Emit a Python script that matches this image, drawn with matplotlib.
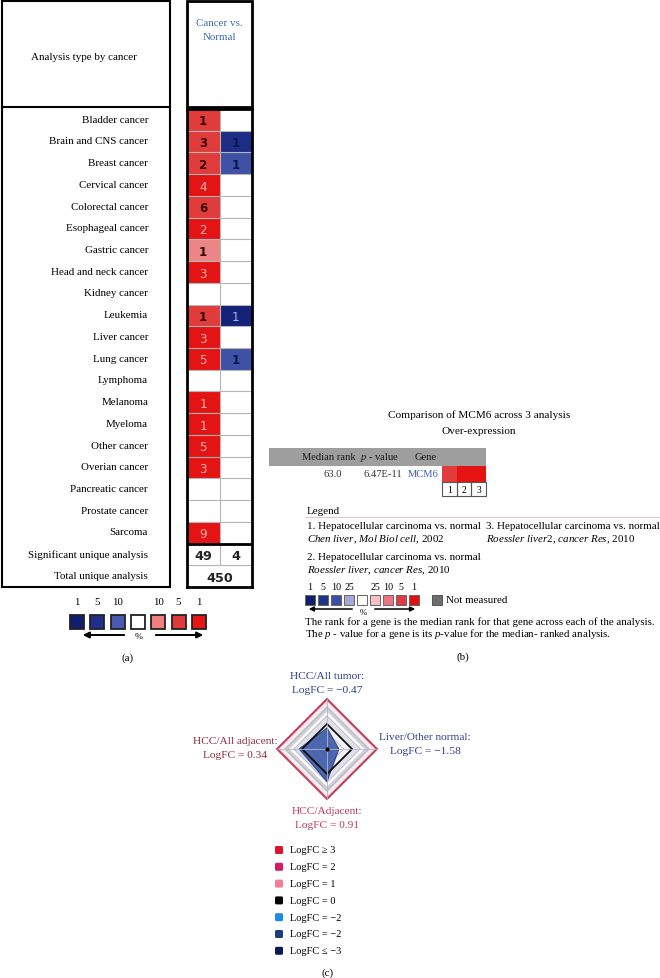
import matplotlib
matplotlib.use("Agg")
import matplotlib.pyplot as plt
from matplotlib.patches import Rectangle, Polygon, FancyBboxPatch
import numpy as np

plt.rcParams['font.family'] = ['Liberation Serif', 'DejaVu Serif']
plt.rcParams['mathtext.fontset'] = 'custom'
plt.rcParams['mathtext.rm'] = 'Liberation Serif'
plt.rcParams['mathtext.it'] = 'Liberation Serif:italic'
plt.rcParams['mathtext.bf'] = 'Liberation Serif:bold'

# ---------------- data ----------------
cancers = ["Bladder cancer", "Brain and CNS cancer", "Breast cancer", "Cervical cancer",
           "Colorectal cancer", "Esophageal cancer", "Gastric cancer", "Head and neck cancer",
           "Kidney cancer", "Leukemia", "Liver cancer", "Lung cancer", "Lymphoma",
           "Melanoma", "Myeloma", "Other cancer", "Overian cancer", "Pancreatic cancer",
           "Prostate cancer", "Sarcoma"]
up_counts = [1, 3, 2, 4, 6, 2, 1, 3, 0, 1, 3, 5, 0, 1, 1, 5, 3, 0, 0, 9]
up_rank = [5, 5, 5, 1, 5, 1, 10, 1, None, 5, 1, 1, None, 1, 1, 1, 1, None, None, 1]
down_counts = [0, 1, 1, 0, 0, 0, 0, 0, 0, 1, 0, 1, 0, 0, 0, 0, 0, 0, 0, 0]
down_rank = [None, 5, 10, None, None, None, None, None, None, 1, None, 10,
             None, None, None, None, None, None, None, None]
summary_labels = ["Significant unique analysis", "Total unique analysis"]
sig_unique = [49, 4]
total_unique = 450
legend_a_labels = ["1", "5", "10", "", "10", "5", "1"]

# panel b
median_rank = "63.0"
p_value = "6.47E-11"
gene = "MCM6"
analysis_rank = [5, 1, 1]
legend_b_labels = ["1", "5", "10", "25", "", "25", "10", "5", "1"]
datasets = [("1. Hepatocellular carcinoma vs. normal", r"$\mathit{Chen\ liver}$, $\mathit{Mol\ Biol\ cell}$, 2002"),
            ("2. Hepatocellular carcinoma vs. normal", r"$\mathit{Roessler\ liver}$, $\mathit{cancer\ Res}$, 2010"),
            ("3. Hepatocellular carcinoma vs. normal", r"$\mathit{Roessler\ liver2}$, $\mathit{cancer\ Res}$, 2010")]

# panel c
radar_names = ["HCC/All tumor:", "Liver/Other normal:", "HCC/Adjacent:", "HCC/All adjacent:"]
radar_logfc = [-0.47, -1.58, 0.91, 0.34]
legend_c_labels = ["LogFC ≥ 3", "LogFC = 2", "LogFC = 1", "LogFC = 0", "LogFC = −2", "LogFC = −2", "LogFC ≤ −3"]
legend_c_colors = ["#e0112b", "#d81b60", "#f27e94", "#000000", "#1e88e5", "#1c3f7a", "#0b1a55"]

# ---------------- styles ----------------
up_colors = {1: "#e41414", 5: "#e03c3c", 10: "#ec8686"}
down_colors = {1: "#14227a", 5: "#1e2d86", 10: "#3f51a5"}
legend_a_colors = ["#0f1f6e", "#1f2f8a", "#4a5aae", "#ffffff", "#f08080", "#e03a3a", "#e81515"]
legend_b_colors = ["#0f1f6e", "#1f3488", "#3c4fa6", "#a3a8d6", "#ffffff", "#f6c0c8", "#ef7482", "#e23a44", "#e01010"]
FS = 7.9
SANS = ['DejaVu Sans']

W, H = 660, 979
fig = plt.figure(figsize=(6.6, 9.79), dpi=100)


def px_axes(x0, y0, x1, y1):
    return fig.add_axes([x0 / W, 1 - y1 / H, (x1 - x0) / W, (y1 - y0) / H])


bg = px_axes(0, 0, W, H)
bg.set_xlim(0, W)
bg.set_ylim(H, 0)
bg.axis('off')

# ================= panel (a) =================
bg.add_patch(Rectangle((2, 2), 168, 586, fill=False, lw=1.5, ec='k'))
bg.plot([2, 170], [108, 108], color='k', lw=1.5)
bg.text(84, 58, "Analysis type by cancer", ha='center', va='center', fontsize=FS)
bg.add_patch(Rectangle((187, 2), 65, 106, fill=False, lw=2, ec='k'))
bg.text(219.5, 24, "Cancer vs.", ha='center', va='center', fontsize=FS, color='#3d6bb0')
bg.text(219.5, 37, "Normal", ha='center', va='center', fontsize=FS, color='#3d6bb0')

nrow = len(cancers) + 2
hm = px_axes(187, 110, 252, 588)
hm.set_xlim(0, 2)
hm.set_ylim(nrow, 0)
for s in hm.spines.values():
    s.set_linewidth(2)
hm.set_xticks([])
hm.set_yticks(np.arange(nrow) + 0.42)
hm.set_yticklabels(cancers + summary_labels, fontsize=FS)
hm.tick_params(axis='y', length=0, pad=28)


def cell(col, row, count, rank, palette):
    if rank is None:
        return
    hm.add_patch(Rectangle((col, row), 1, 1, color=palette[rank], lw=0))
    if rank == 1:
        tc = '#f7b4b4' if palette is up_colors else '#a8b6ea'
        w = 'normal'
    else:
        tc = '#3a0606' if palette is up_colors else '#0b1550'
        w = 'bold'
    hm.text(col + 0.5, row + 0.55, str(count), ha='center', va='center', fontsize=8.6,
            family=SANS, color=tc, weight=w)


for i in range(len(cancers)):
    cell(0, i, up_counts[i], up_rank[i], up_colors)
    cell(1, i, down_counts[i], down_rank[i], down_colors)
for r in range(1, nrow):
    hm.axhline(r, color='#b5b5b5', lw=0.8)
hm.plot([1, 1], [0, nrow - 1], color='#b5b5b5', lw=0.8)
hm.axhline(len(cancers), color='k', lw=2)
for j, v in enumerate(sig_unique):
    hm.text(j + 0.5, len(cancers) + 0.55, str(v), ha='center', va='center', fontsize=9.2,
            family=SANS, weight='bold', color='#222222')
hm.text(1, len(cancers) + 1.55, str(total_unique), ha='center', va='center', fontsize=9.2,
        family=SANS, weight='bold', color='#222222')

# legend (a)
for i, (lab, col) in enumerate(zip(legend_a_labels, legend_a_colors)):
    x = 70 + 20.3 * i
    bg.add_patch(Rectangle((x, 616), 14, 14, fc=col, ec='#222222', lw=1.3))
    if lab:
        bg.text(x + 7, 603, lab, ha='center', va='center', fontsize=7.8)
bg.annotate("", xy=(80, 636), xytext=(127, 636),
            arrowprops=dict(arrowstyle='-|>', lw=1.4, color='k', mutation_scale=9))
bg.annotate("", xy=(206, 636), xytext=(153, 636),
            arrowprops=dict(arrowstyle='-|>', lw=1.4, color='k', mutation_scale=9))
bg.text(139, 637, "%", ha='center', va='center', fontsize=6.8)
bg.text(128, 658, "(a)", ha='center', va='center', fontsize=FS)

# ================= panel (b) =================
bg.text(479, 415, "Comparison of MCM6 across 3 analysis", ha='center', va='center', fontsize=8.1)
bg.text(479, 432, "Over-expression", ha='center', va='center', fontsize=8.1)
bg.add_patch(Rectangle((269, 449), 217, 18, fc='#9e9e9e', lw=0))
bg.text(302, 458, "Median rank", ha='left', va='center', fontsize=7.6, color='#1a1a1a')
bg.text(360, 458, r"$\mathit{p}$ - value", ha='left', va='center', fontsize=7.6, color='#1a1a1a')
bg.text(415, 458, "Gene", ha='left', va='center', fontsize=7.6, color='#1a1a1a')
bg.text(333, 475, median_rank, ha='center', va='center', fontsize=7.6, color='#333333')
bg.text(363, 475, p_value, ha='left', va='center', fontsize=7.6, color='#333333')
bg.text(408, 475, gene, ha='left', va='center', fontsize=7.6, color='#3d5fae')
cw = 44 / len(analysis_rank)
for i, rk in enumerate(analysis_rank):
    bg.add_patch(Rectangle((442 + i * cw, 467), cw, 16, fc=up_colors[rk], lw=0))
    bg.add_patch(Rectangle((442 + i * cw, 483), cw, 14, fill=False, ec='#555555', lw=0.8))
    bg.text(442 + (i + 0.5) * cw, 490.5, str(i + 1), ha='center', va='center', fontsize=7)

bg.text(307, 511, "Legend", ha='left', va='center', fontsize=FS)
bg.plot([305, 660], [518, 518], color='#e6c6cb', lw=0.8)
pos_b = [(307, 527), (307, 558), (486, 527)]
for (t1, t2), (x, y) in zip(datasets, pos_b):
    bg.text(x, y, t1, ha='left', va='center', fontsize=FS)
    bg.text(x, y + 13, t2, ha='left', va='center', fontsize=FS)

for i, (lab, col) in enumerate(zip(legend_b_labels, legend_b_colors)):
    x = 305 + 13 * i
    bg.add_patch(Rectangle((x, 596), 10, 10, fc=col, ec='#666666', lw=0.7))
    if lab:
        bg.text(x + 5, 588, lab, ha='center', va='center', fontsize=7.2)
bg.add_patch(Rectangle((432, 596), 10, 10, fc='#6e6e6e', ec='#555555', lw=0.7))
bg.text(446, 601, "Not measured", ha='left', va='center', fontsize=FS)
bg.annotate("", xy=(306, 610), xytext=(355, 610),
            arrowprops=dict(arrowstyle='-|>', lw=1.1, color='k', mutation_scale=7))
bg.annotate("", xy=(418, 610), xytext=(372, 610),
            arrowprops=dict(arrowstyle='-|>', lw=1.1, color='k', mutation_scale=7))
bg.text(363, 613, "%", ha='center', va='center', fontsize=6.2)
bg.text(305, 622, "The rank for a gene is the median rank for that gene across each of the analysis.",
        ha='left', va='center', fontsize=7.8)
bg.text(305, 634, r"The $\mathit{p}$ - value for a gene is its $\mathit{p}$-value for the median- ranked analysis.",
        ha='left', va='center', fontsize=7.8)
bg.text(463, 657, "(b)", ha='center', va='center', fontsize=FS)

# ================= panel (c) =================
vmin, vmax = -3.0, 3.0
ang = np.deg2rad([90, 0, -90, 180])
rad = px_axes(272, 695, 382, 805)
rad.set_xlim(-1.1, 1.1)
rad.set_ylim(-1.1, 1.1)
rad.axis('off')


def ring(vals):
    r = (np.asarray(vals, dtype=float) - vmin) / (vmax - vmin)
    return np.c_[r * np.cos(ang), r * np.sin(ang)]


for lev, fc in [(2.8, '#f7eef1'), (2.2, '#cfd0d6'), (1.5, 'white'), (1.0, '#dedfe7'), (0.0, '#f2f3f8')]:
    rad.add_patch(Polygon(ring([lev] * 4), closed=True, fc=fc, ec='none'))
for lev in [-2, -1, 1, 2]:
    rad.add_patch(Polygon(ring([lev] * 4), closed=True, fill=False, ec='#b3b6c4', lw=0.6))
rad.plot([-1, 1], [0, 0], color='#b3b6c4', lw=0.6)
rad.plot([0, 0], [-1, 1], color='#b3b6c4', lw=0.6)
rad.add_patch(Polygon(ring(radar_logfc), closed=True, fc='#3f5ca8', ec='#2a3f85', lw=0.8, alpha=0.92))
rad.add_patch(Polygon(ring([0] * 4), closed=True, fill=False, ec='k', lw=1.2))
rad.add_patch(Polygon(ring([2.8] * 4), closed=True, fill=False, ec='#ebb6c3', lw=0.7))
rad.add_patch(Polygon(ring([3] * 4), closed=True, fill=False, ec='#c23b5c', lw=1.4))
rad.plot([0], [0], 'o', color='k', ms=2)


def lab_color(v):
    if v < 0:
        return '#2f3d8f'
    return '#8b2d40' if v < 0.5 else '#c23a55'


label_pos = [(327, 677), (425, 738), (327, 812), (235, 742)]
for name, v, (x, y) in zip(radar_names, radar_logfc, label_pos):
    c = lab_color(v)
    bg.text(x, y, name, ha='center', va='center', fontsize=8.2, color=c)
    bg.text(x, y + 14, "LogFC = " + f"{v:.2f}".replace('-', '−'), ha='center', va='center',
            fontsize=8.2, color=c)

for i, (lab, col) in enumerate(zip(legend_c_labels, legend_c_colors)):
    y = 851 + 16.8 * i
    bg.add_patch(FancyBboxPatch((275, y - 4), 8, 8, boxstyle='round,pad=0,rounding_size=1.5',
                                fc=col, ec='none'))
    bg.text(290, y, lab, ha='left', va='center', fontsize=7.5)
bg.text(328, 973, "(c)", ha='center', va='center', fontsize=FS)

fig.savefig("out.png", dpi=100)
